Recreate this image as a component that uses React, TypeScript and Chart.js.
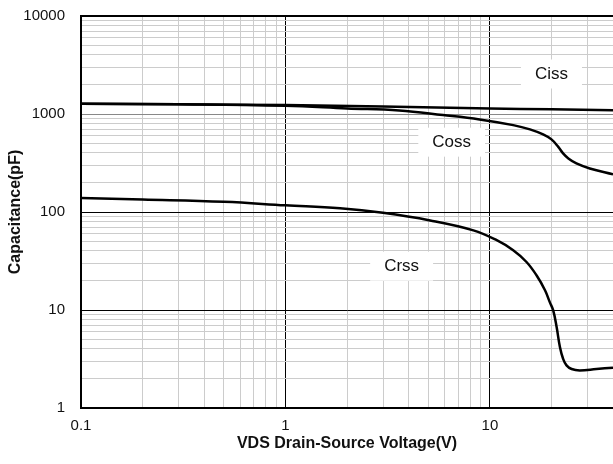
import React, { useEffect, useRef } from 'react';
import { Chart, registerables } from 'chart.js';

Chart.register(...registerables);

// Tick positions (log grid) and labelled decades
const xTicks = [0.1, 0.2, 0.3, 0.4, 0.5, 0.6, 0.7, 0.8, 0.9, 1, 2, 3, 4, 5, 6, 7, 8, 9, 10, 20, 30, 40];
const yTicks = [
  1, 2, 3, 4, 5, 6, 7, 8, 9,
  10, 20, 30, 40, 50, 60, 70, 80, 90,
  100, 200, 300, 400, 500, 600, 700, 800, 900,
  1000, 2000, 3000, 4000, 5000, 6000, 7000, 8000, 9000,
  10000,
];
const xLabelValues = [0.1, 1, 10];
const yLabelValues = [1, 10, 100, 1000, 10000];

// Ciss
const cissV = [0.1, 0.3, 1, 3, 10, 20, 40];
const cissC = [1270, 1255, 1232, 1195, 1140, 1115, 1095];
// Coss
const cossV = [0.1, 0.3, 1, 2, 3.6, 5.9, 8.9, 13, 15.7, 18.2, 20, 21.6, 22.8, 24.2, 26.5, 30.8, 40];
const cossC = [1270, 1258, 1215, 1140, 1085, 975, 881, 770, 697, 619, 551, 462, 396, 352, 313, 278, 242];
// Crss
const crssV = [0.1, 0.2, 0.5, 1, 1.85, 3, 5.1, 8.3, 10.8, 13, 15.1, 16.9, 18.6, 19.6, 20.4, 21.2, 22, 22.8, 23.7, 25.1, 27.5, 33.2, 40];
const crssC = [139, 134, 127, 117, 109, 98, 82, 65, 51.5, 40.7, 30.9, 22.6, 15.9, 12.1, 9.9, 6.7, 4.19, 3.18, 2.72, 2.5, 2.42, 2.5, 2.58];

// Curve labels
const labelText = ['Ciss', 'Coss', 'Crss'];
const labelV = [20, 6.5, 3.7];
const labelC = [2560, 516, 28];

const xTitle = 'VDS Drain-Source Voltage(V)';
const yTitle = 'Capacitance(pF)';

const FONT = '"Liberation Sans", Arial, sans-serif';

const isDecade = (v: number) => {
  const l = Math.log10(v);
  return Math.abs(l - Math.round(l)) < 1e-9;
};

const toPoints = (xs: number[], ys: number[]) => xs.map((x, i) => ({ x, y: ys[i] }));

const labelPlugin = {
  id: 'curveLabels',
  beforeDatasetsDraw(chart: any) {
    const { ctx, scales } = chart;
    const xs = scales.x;
    const ys = scales.y;
    ctx.save();
    ctx.font = `17px ${FONT}`;
    labelText.forEach((t, i) => {
      const px = xs.getPixelForValue(labelV[i]);
      const py = ys.getPixelForValue(labelC[i]);
      const w = ctx.measureText(t).width + 28;
      const h = 29;
      ctx.fillStyle = '#ffffff';
      ctx.fillRect(px - w / 2, py - h / 2, w, h);
      ctx.fillStyle = '#111111';
      ctx.textAlign = 'center';
      ctx.textBaseline = 'middle';
      ctx.fillText(t, px, py);
    });
    ctx.restore();
  },
};

export default function App() {
  const ref = useRef<HTMLCanvasElement | null>(null);

  useEffect(() => {
    if (!ref.current) return;
    const lineStyle = {
      borderColor: '#000000',
      borderWidth: 2.5,
      pointRadius: 0,
      fill: false,
      tension: 0.4,
    };
    const chart = new Chart(ref.current, {
      type: 'line',
      data: {
        datasets: [
          { label: 'Ciss', data: toPoints(cissV, cissC), ...lineStyle },
          { label: 'Coss', data: toPoints(cossV, cossC), ...lineStyle },
          { label: 'Crss', data: toPoints(crssV, crssC), ...lineStyle },
        ],
      },
      options: {
        responsive: false,
        animation: false,
        layout: { padding: { top: 16, right: 0, left: 0, bottom: 0 } },
        plugins: {
          legend: { display: false },
          tooltip: { enabled: false },
        },
        scales: {
          x: {
            type: 'logarithmic',
            min: 0.1,
            max: 40,
            afterBuildTicks: (s: any) => {
              s.ticks = xTicks.map((v) => ({ value: v }));
            },
            afterFit: (s: any) => {
              s.height = 56;
              s.paddingLeft = 0;
              s.paddingRight = 0;
            },
            ticks: {
              autoSkip: false,
              maxRotation: 0,
              padding: 9,
              color: '#111111',
              font: { family: FONT, size: 15 },
              callback: (v: any) => (xLabelValues.includes(Number(v)) ? String(v) : ''),
            },
            grid: {
              drawTicks: false,
              color: (c: any) => (c.tick && isDecade(c.tick.value) ? '#000000' : '#cccccc'),
              lineWidth: 1,
            },
            border: { display: true, color: '#000000', width: 2 },
            title: {
              display: true,
              text: xTitle,
              color: '#111111',
              font: { family: FONT, size: 16, weight: 'bold' },
              padding: { top: 0, bottom: 11 },
            },
          },
          y: {
            type: 'logarithmic',
            min: 1,
            max: 10000,
            afterBuildTicks: (s: any) => {
              s.ticks = yTicks.map((v) => ({ value: v }));
            },
            afterFit: (s: any) => {
              s.width = 81;
              s.paddingTop = 0;
              s.paddingBottom = 0;
            },
            ticks: {
              autoSkip: false,
              padding: 16,
              color: '#111111',
              font: { family: FONT, size: 15 },
              callback: (v: any) => (yLabelValues.includes(Number(v)) ? String(v) : ''),
            },
            grid: {
              drawTicks: false,
              color: (c: any) => {
                const v = c.tick ? c.tick.value : 0;
                if (v === 1000) return '#888888';
                return isDecade(v) ? '#000000' : '#cccccc';
              },
              lineWidth: (c: any) => (c.tick && c.tick.value === 10000 ? 2 : 1),
            },
            border: { display: true, color: '#000000', width: 2 },
            title: {
              display: true,
              text: yTitle,
              color: '#111111',
              font: { family: FONT, size: 16, weight: 'bold' },
              padding: { top: 6, bottom: 0 },
            },
          },
        },
      },
      plugins: [labelPlugin],
    });
    return () => chart.destroy();
  }, []);

  return (
    <div style={{ position: 'absolute', left: 0, top: 0, width: 613, height: 464, background: '#ffffff' }}>
      <canvas ref={ref} width={613} height={464} />
    </div>
  );
}
